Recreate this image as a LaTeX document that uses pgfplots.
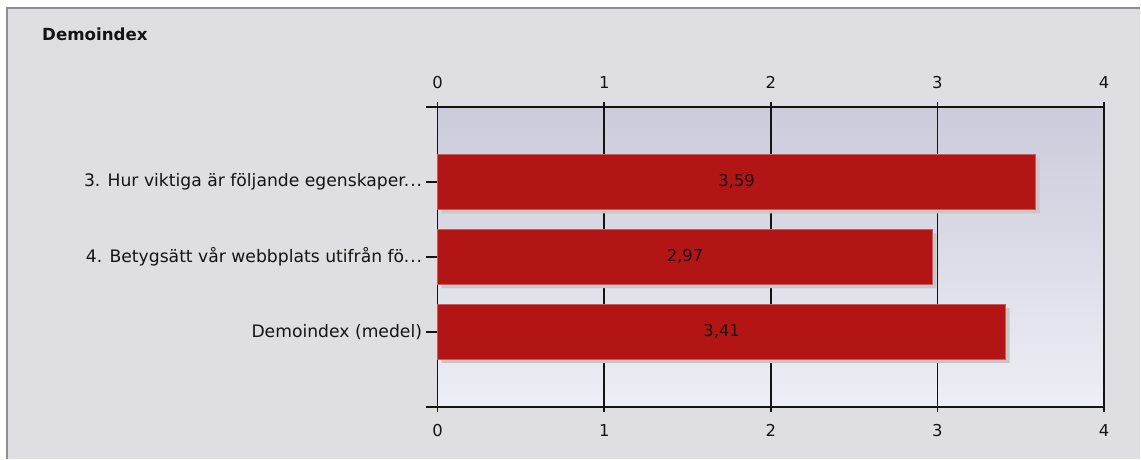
\documentclass[border=0pt]{standalone}
\usepackage{pgfplots}
\pgfplotsset{compat=1.18}
\usepackage{fontspec}
\setmainfont{DejaVu Sans}
\definecolor{bgc}{HTML}{DFDEE3}
\definecolor{framec}{HTML}{8E8E8E}
\definecolor{plottop}{HTML}{CBCBDB}
\definecolor{plotbot}{HTML}{EEEEF6}
\definecolor{barc}{HTML}{B31414}
\definecolor{baredge}{HTML}{CC5A5A}
\definecolor{shadowc}{HTML}{C8C6C8}
\definecolor{tickc}{HTML}{141414}
\newcommand{\dd}{.\kern0.05em.\kern0.05em.}
\begin{document}
\begin{tikzpicture}
\fill[white] (0pt,0pt) rectangle (855.75pt,344.25pt);
\fill[bgc] (4.5pt,0pt) rectangle (855.75pt,338.25pt);
\draw[framec,line width=1.5pt] (4.9pt,0pt) -- (4.9pt,337.9pt) -- (855.75pt,337.9pt);
\node[anchor=base west,inner sep=0pt,font=\fontsize{12.5}{14}\selectfont\bfseries,text=black!92] at (31.5pt,314pt) {Demoindex};
\shade[top color=plottop,bottom color=plotbot] (328.5pt,39pt) rectangle (828.75pt,264pt);
\begin{axis}[
  at={(328.5pt,264pt)}, anchor=origin,
  scale only axis, width=500.25pt, height=225pt,
  xmin=0, xmax=4, ymin=0, ymax=4, y dir=reverse,
  axis line style={tickc, line width=1.3pt},
  xtick={0,1,2,3,4},
  ytick=\empty,
  extra y ticks={0,1,2,3,4},
  extra y tick labels={,{3. Hur viktiga är följande egenskaper\dd},{4. Betygsätt vår webbplats utifrån fö\dd},{Demoindex (medel)},},
  extra y tick style={major tick length=8.5pt, tick align=outside, ytick pos=left,
    yticklabel style={font=\fontsize{12.9}{14}\selectfont, text=black!92, inner sep=3pt}},
  xticklabel style={font=\fontsize{12.3}{14}\selectfont, text=black!92},
  xticklabel shift=6pt,
  /pgf/number format/assume math mode=true,
  xticklabel pos=right,
  extra x ticks={0,1,2,3,4},
  extra x tick style={xticklabel pos=left, tick align=outside, major tick length=4pt},
  tick align=outside,
  major tick length=4pt,
  xtick pos=both, ytick pos=left,
  tick style={tickc, line width=1.3pt},
  xmajorgrids, grid style={tickc, line width=1.3pt},
  clip=false,
]
\addplot[xbar, bar width=41.25pt, fill=shadowc, draw=none, bar shift=0pt, xshift=3pt, yshift=-3pt, forget plot]
  coordinates {(3.59,1) (2.97,2) (3.41,3)};
\addplot[xbar, bar width=41.25pt, fill=barc, draw=baredge, line width=0.6pt, bar shift=0pt]
  coordinates {(3.59,1) (2.97,2) (3.41,3)};
\addplot[only marks, mark=none, nodes near coords, point meta=explicit symbolic,
  nodes near coords style={anchor=center, font=\fontsize{12.3}{14}\selectfont, text=black!92}]
  coordinates {(1.795,1) [{3,59}] (1.485,2) [{2,97}] (1.705,3) [{3,41}]};
\end{axis}
\end{tikzpicture}
\end{document}
